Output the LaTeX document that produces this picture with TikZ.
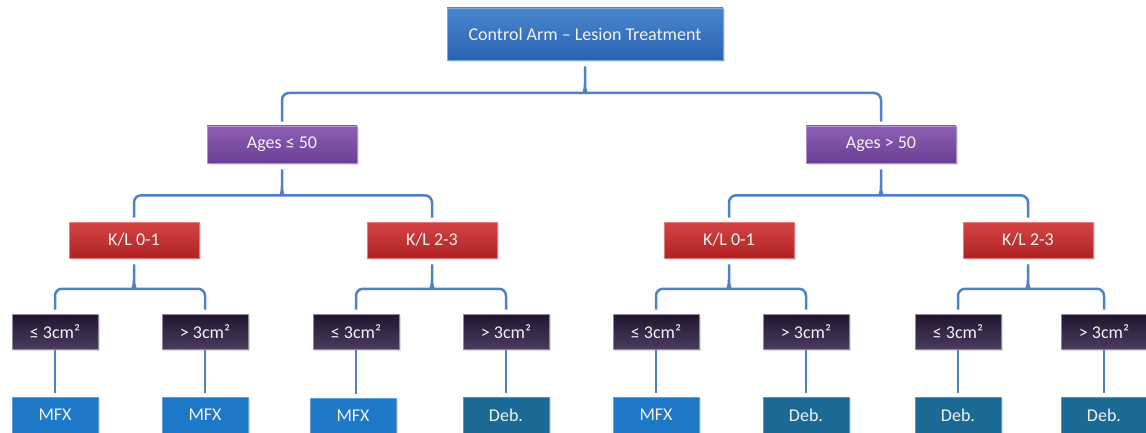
\documentclass[tikz,border=0pt]{standalone}
\usepackage{fontspec}
\setmainfont{Carlito}
\usetikzlibrary{calc,shadows}
\definecolor{connc}{HTML}{4F81C4}
\definecolor{topA}{HTML}{4A86CE}
\definecolor{topB}{HTML}{2A62B0}
\definecolor{ageA}{HTML}{8E60B4}
\definecolor{ageB}{HTML}{6A3E94}
\definecolor{klA}{HTML}{D44444}
\definecolor{klB}{HTML}{B02222}
\definecolor{szA}{HTML}{22152E}
\definecolor{szB}{HTML}{4A3B5E}
\definecolor{mfxc}{HTML}{1E78C8}
\definecolor{debc}{HTML}{1B6A96}
\definecolor{txt}{HTML}{F2F2F2}
\tikzset{
  box/.style={rectangle, inner sep=0pt, text=txt, font=\fontsize{18}{21}\selectfont,
    drop shadow={opacity=0.25, shadow xshift=2pt, shadow yshift=-2pt}},
  topbox/.style={box, top color=topA, bottom color=topB, draw=topA!70!white, line width=0.8pt,
    minimum width=276pt, minimum height=52pt, font=\fontsize{18}{21}\selectfont},
  agebox/.style={box, top color=ageA, bottom color=ageB, draw=ageA!70!white, line width=0.8pt,
    minimum width=150pt, minimum height=37pt},
  klbox/.style={box, top color=klA, bottom color=klB, draw=klA!70!white, line width=0.8pt,
    minimum width=130pt, minimum height=36pt},
  szbox/.style={box, top color=szA, bottom color=szB, draw=szB!60!white, line width=0.8pt,
    minimum width=86pt, minimum height=35pt},
  mfxbox/.style={box, fill=mfxc, draw=mfxc!70!white, line width=0.8pt,
    minimum width=86pt, minimum height=36pt},
  debbox/.style={box, fill=debc, draw=debc!70!white, line width=0.8pt,
    minimum width=86pt, minimum height=36pt},
  conn/.style={draw=connc, line width=2.5pt},
}
\newcommand{\brc}[4][0.55]{%
  \draw[conn] let \p1=(#2.south), \p2=(#3.north), \p3=(#4.north),
      \p4=($(#2.south)!#1!(#3.north)$) in
    (\x2,\y2+4pt) [rounded corners=7pt] -- (\x2,\y4) -- (\x1-8pt,\y4) [sharp corners]
      .. controls (\x1-2pt,\y4) and (\x1,\y4+2pt) .. (\x1,\y4+9pt) -- (\x1,\y1-6pt)
    (\x3,\y3+4pt) [rounded corners=7pt] -- (\x3,\y4) -- (\x1+8pt,\y4) [sharp corners]
      .. controls (\x1+2pt,\y4) and (\x1,\y4+2pt) .. (\x1,\y4+9pt);
}
\newcommand{\vln}[2]{\draw[conn] ([yshift=-1pt]#1.south) -- ($(#1.south |- #2.north)+(0,-4)$);}
\begin{document}
\begin{tikzpicture}[x=1pt,y=-1pt]
\useasboundingbox (0,0) rectangle (1146,433);
\node[topbox] (top) at (585,34) {Control Arm – Lesion Treatment};
\node[agebox] (ageL) at (282,144.5) {Ages ≤ 50};
\node[agebox] (ageR) at (881,144.5) {Ages > 50};
\node[klbox] (kl1) at (134,240) {K/L 0-1};
\node[klbox] (kl2) at (432,240) {K/L 2-3};
\node[klbox] (kl3) at (729,240) {K/L 0-1};
\node[klbox] (kl4) at (1028,240) {K/L 2-3};
\node[szbox] (s1) at (55,331.5) {≤ 3cm²};
\node[szbox] (s2) at (205,331.5) {> 3cm²};
\node[szbox] (s3) at (356,331.5) {≤ 3cm²};
\node[szbox] (s4) at (506,331.5) {> 3cm²};
\node[szbox] (s5) at (656,331.5) {≤ 3cm²};
\node[szbox] (s6) at (806,331.5) {> 3cm²};
\node[szbox] (s7) at (958,331.5) {≤ 3cm²};
\node[szbox] (s8) at (1104,331.5) {> 3cm²};
\node[mfxbox] (b1) at (55,415) {MFX};
\node[mfxbox] (b2) at (205,415) {MFX};
\node[mfxbox] (b3) at (353,416) {MFX};
\node[debbox] (b4) at (506,415) {Deb.};
\node[mfxbox] (b5) at (656,415) {MFX};
\node[debbox] (b6) at (806,415) {Deb.};
\node[debbox] (b7) at (958,415) {Deb.};
\node[debbox] (b8) at (1104,415) {Deb.};
\brc[0.5]{top}{ageL}{ageR}
\brc{ageL}{kl1}{kl2}
\brc{ageR}{kl3}{kl4}
\brc{kl1}{s1}{s2}
\brc{kl2}{s3}{s4}
\brc{kl3}{s5}{s6}
\brc{kl4}{s7}{s8}
\vln{s1}{b1}\vln{s2}{b2}\vln{s3}{b3}\vln{s4}{b4}
\vln{s5}{b5}\vln{s6}{b6}\vln{s7}{b7}\vln{s8}{b8}
\end{tikzpicture}
\end{document}
